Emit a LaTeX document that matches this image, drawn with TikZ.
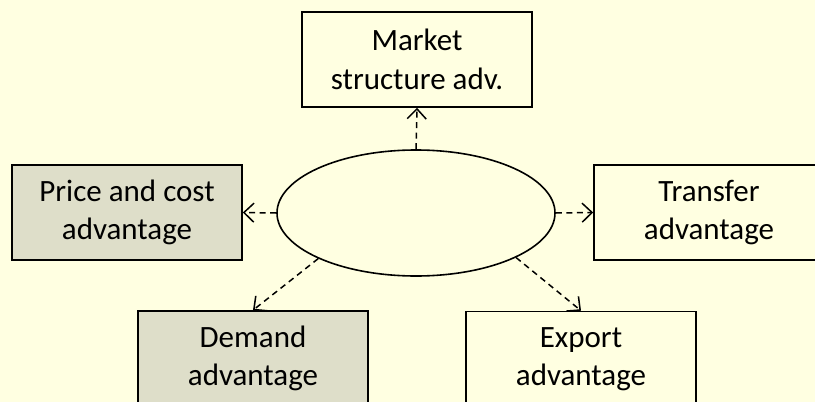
\documentclass[tikz,border=0pt]{standalone}
\usepackage{fontspec}
\setmainfont{Carlito}
\usepackage{xcolor}
\usetikzlibrary{arrows.meta, shapes.geometric}
\definecolor{PaleBack}{HTML}{FFFFE1}
\definecolor{Khaki_Grey}{HTML}{DEDEC9}

\begin{document}
\begin{tikzpicture}[x=1pt, y=-1pt,
    advbox/.style={draw, line width=1.6pt, minimum width=230pt, minimum height=95pt,
        align=center, font=\fontsize{31}{38.5}\selectfont, inner sep=0pt},
    greybox/.style={advbox, fill=Khaki_Grey},
    link/.style={draw, line width=1.5pt, dash pattern=on 6pt off 4.5pt,
        -{Straight Barb[length=10pt, width=19pt, line width=1.5pt]}}]
    % Background and page size
    \fill[PaleBack] (0,0) rectangle (815,402);
    \useasboundingbox (0,0) rectangle (815,402);

    % Central ellipse
    \node[ellipse, draw, line width=1.6pt, minimum width=278pt, minimum height=126pt,
        inner sep=0pt] (core) at (416,213) {};

    % Advantage boxes round the ellipse
    \node[advbox] (market) at (417,59.5) {Market\\structure adv.};
    \node[greybox] (price) at (127,212.5) {Price and cost\\advantage};
    \node[advbox] (transfer) at (709,212.5) {Transfer\\advantage};
    \node[greybox] (demand) at (253,358.5) {Demand\\advantage};
    \node[advbox] (export) at (581,359) {Export\\advantage};

    % Dashed links
    \draw[link] (core.north) -- (market.south);
    \draw[link] (core.west) -- (price.east);
    \draw[link] (core.east) -- (transfer.west);
    \draw[link] (core.205) -- (demand.north);
    \draw[link] (core.-24) -- (export.north);
\end{tikzpicture}
\end{document}
